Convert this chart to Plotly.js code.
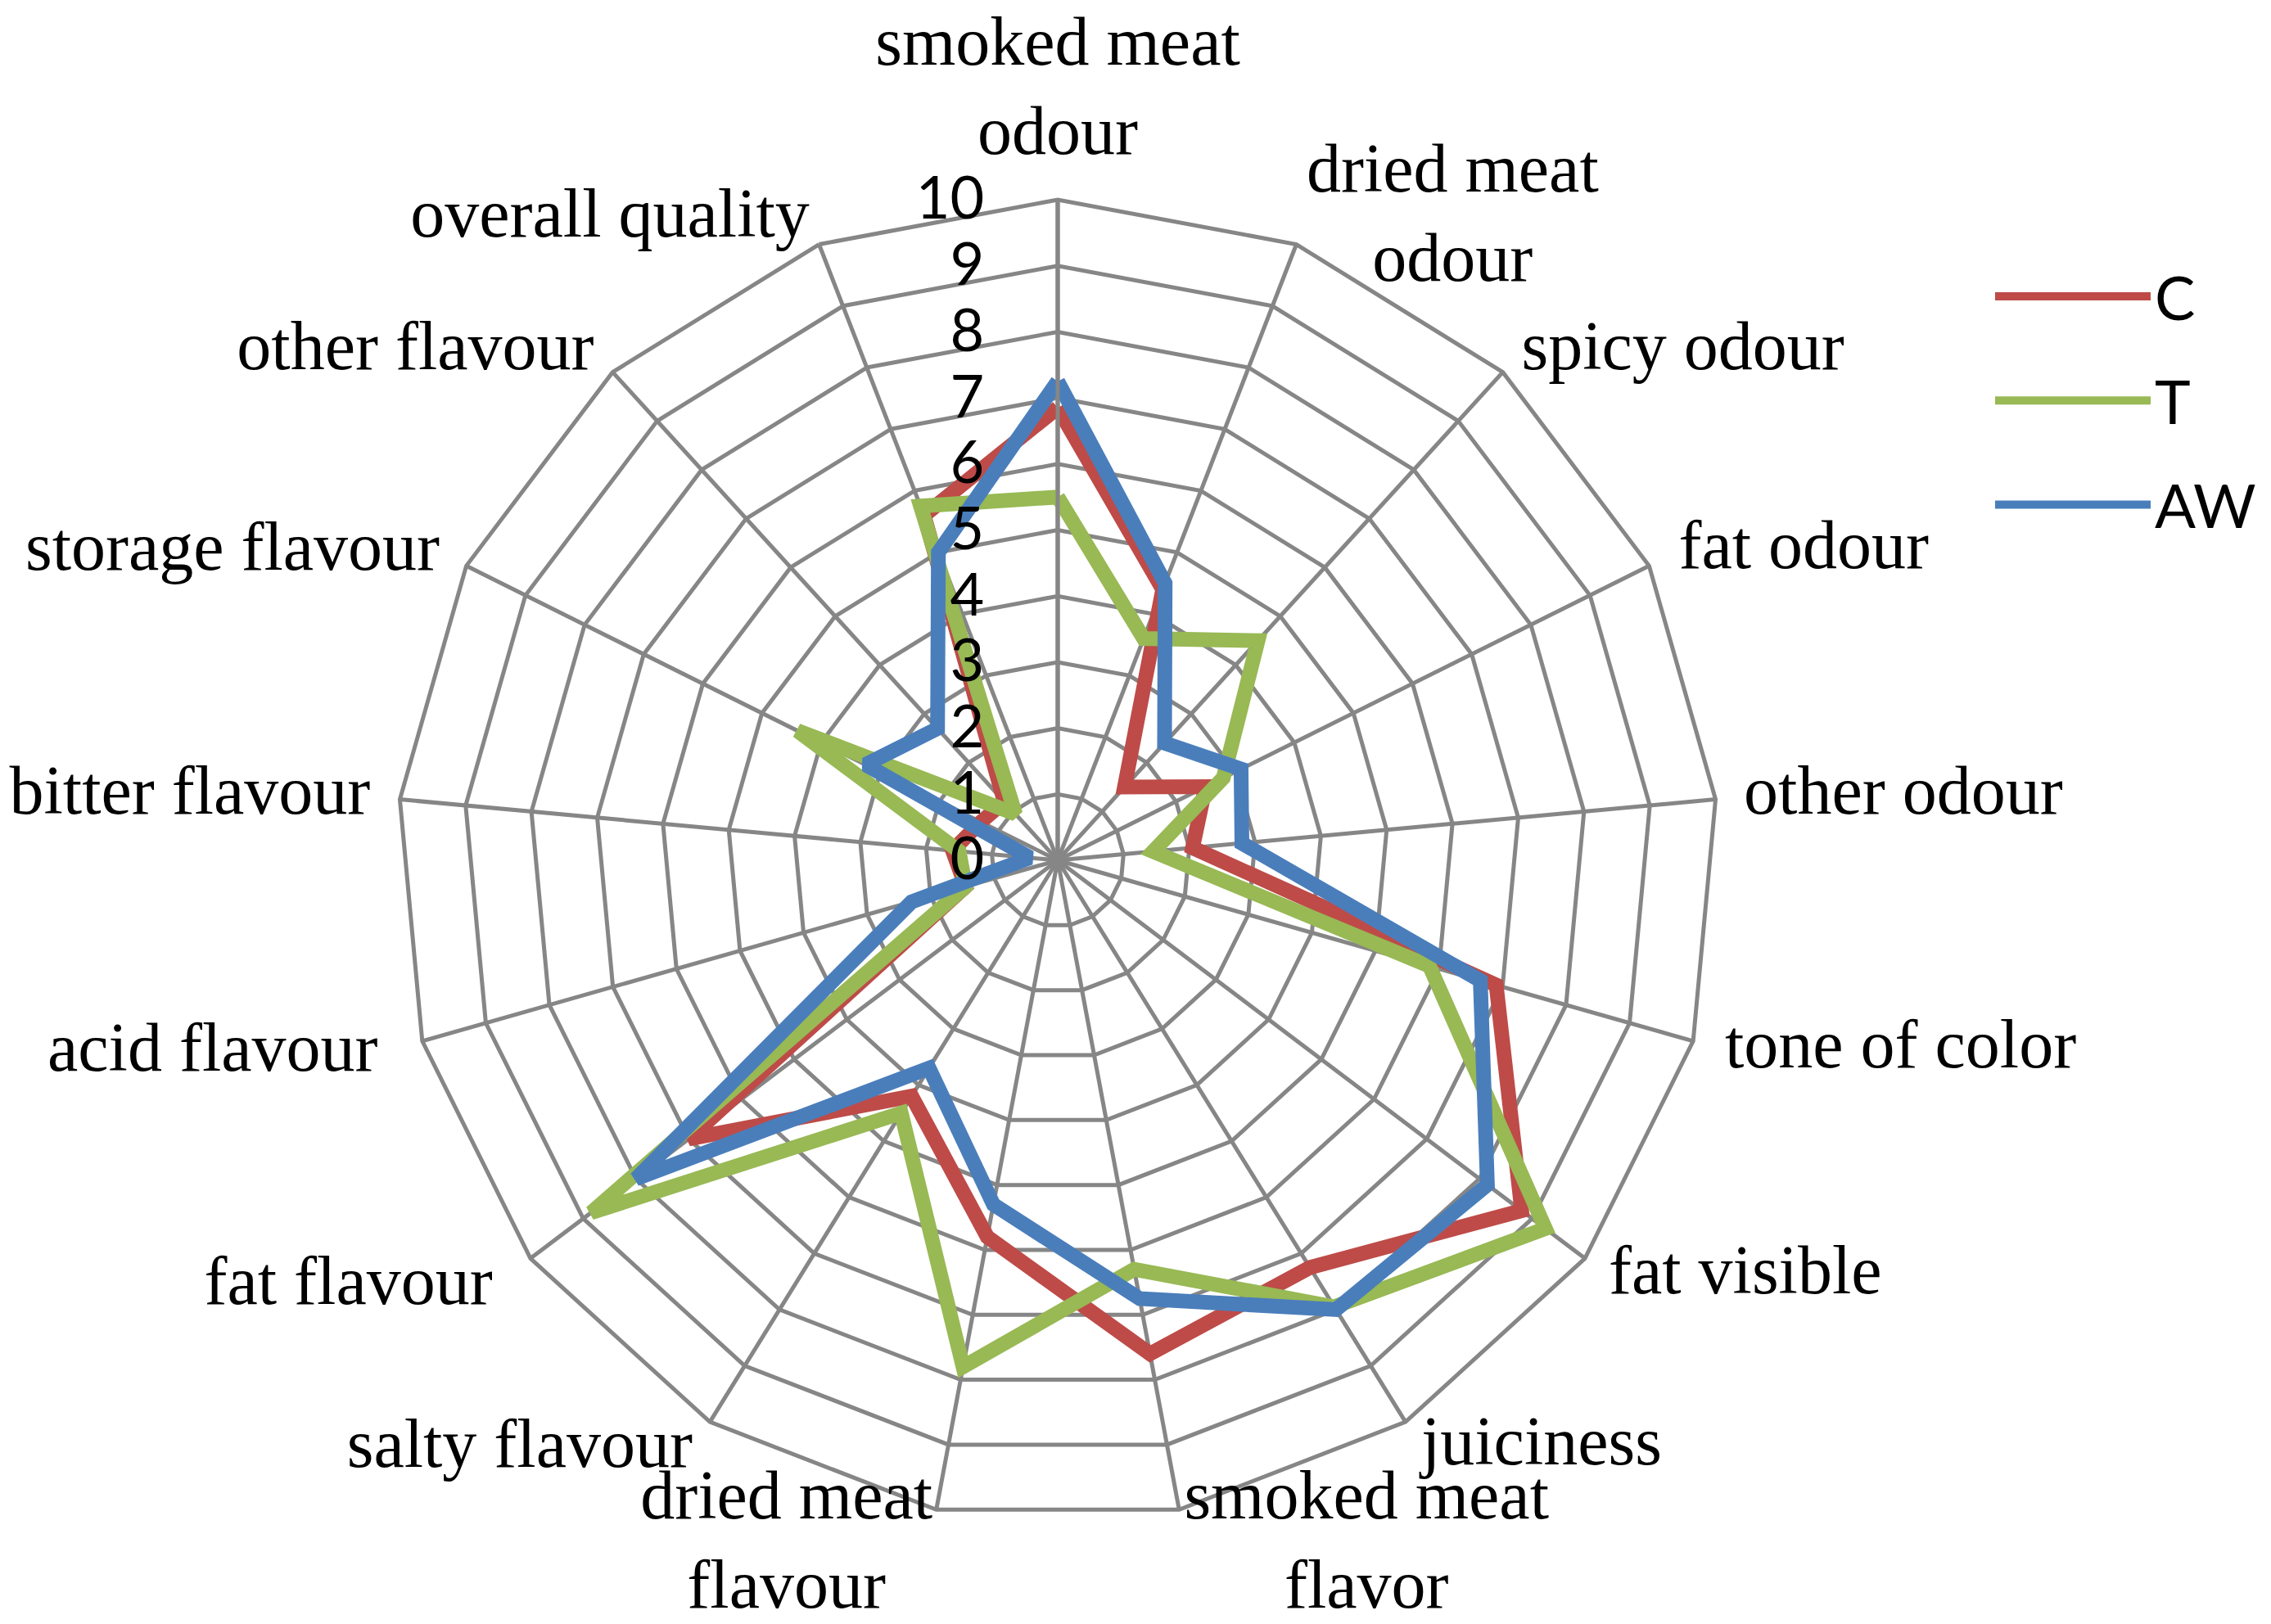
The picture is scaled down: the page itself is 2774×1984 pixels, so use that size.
<!DOCTYPE html>
<html>
<head>
<meta charset="utf-8">
<script src="https://cdn.plot.ly/plotly-3.0.1.min.js"></script>
<style>
  html, body { margin: 0; padding: 0; background: #ffffff; }
  #chart { width: 2774px; height: 1984px; }
</style>
</head>
<body>
<div id="chart"></div>
<script>
// sensory attributes, clockwise from the top
var attributes = [
    "smoked meat odour", "dried meat odour", "spicy odour", "fat odour",
    "other odour", "tone of color", "fat visible", "juiciness",
    "smoked meat flavor", "dried meat flavour", "salty flavour", "fat flavour",
    "acid flavour", "bitter flavour", "storage flavour", "other flavour",
    "overall quality"
];

// how the category names are written round the web
var attributeLabels = [
    "smoked meat<br>odour", "dried meat<br>odour", "spicy odour", "fat odour",
    "other odour", "tone of color", "fat visible", "juiciness",
    "smoked meat<br>flavor", "dried meat<br>flavour", "salty flavour", "fat flavour",
    "acid flavour", "bitter flavour", "storage flavour", "other flavour",
    "overall quality"
];

var valuesC  = [6.85, 4.4, 1.5, 2.5, 2.05, 6.9, 8.8, 7.25, 7.6, 5.8, 4.2, 7.0, 1.45, 1.6, 1.3, 1.2, 5.6];
var valuesT  = [5.5, 3.6, 4.5, 2.8, 1.45, 5.85, 9.25, 7.95, 6.3, 7.8, 4.5, 8.85, 1.45, 1.5, 4.4, 0.95, 5.75];
var valuesAW = [7.25, 4.5, 2.4, 3.1, 2.8, 6.65, 8.15, 8.0, 6.75, 5.3, 3.7, 8.0, 2.3, 0.42, 3.25, 2.7, 5.0];

var scaleTicks = [0, 1, 2, 3, 4, 5, 6, 7, 8, 9, 10];

// placement of each category name: radius, small turn off its spoke (degrees), side
var labelRadius = [10.43, 10.4, 10.42, 10.5, 10.43, 10.5, 10.45, 10.45, 10.3,
                   10.06, 10.5, 10.72, 10.7, 10.45, 10.45, 10.42, 10.4];
var labelTurn = [0, 13.9, 0, 0, 0, 0, 0, 0, -16.4, 13.5, 0, 0, 0, 0, 0, 0, 0];
var labelSide = ['top center', 'top center', 'middle right', 'middle right', 'middle right',
                 'middle right', 'middle right', 'middle right', 'bottom center',
                 'bottom center', 'middle left', 'middle left', 'middle left', 'middle left',
                 'middle left', 'middle left', 'middle left'];

var gridColor = '#868686';

function closed(arr) {
    return arr.concat([arr[0]]);
}

function makeTrace(name, values, color) {
    return {
        type: 'scatterpolar',
        mode: 'lines',
        name: name,
        legendgroup: name,
        r: closed(values),
        theta: closed(attributes),
        line: { color: color, width: 18 },
        hoverinfo: 'skip'
    };
}

// category names live on a second, invisible polar with the same centre and scale
// but a 15% larger reach, so they can sit outside the outer ring
var step = 360 / attributes.length;
var labels = {
    type: 'scatterpolar',
    subplot: 'polar2',
    mode: 'text',
    r: labelRadius,
    theta: attributes.map(function (a, i) { return i * step + labelTurn[i]; }),
    text: attributeLabels,
    textposition: labelSide,
    textfont: { family: '"Liberation Serif", "Times New Roman", serif', size: 84, color: '#000000' },
    cliponaxis: false,
    showlegend: false,
    hoverinfo: 'skip'
};

var data = [
    makeTrace('C', valuesC, '#BE4B48'),
    makeTrace('T', valuesT, '#98B954'),
    makeTrace('AW', valuesAW, '#4A7EBB'),
    labels
];

var hiddenAxis = {
    showline: false,
    showgrid: false,
    showticklabels: false,
    ticks: ''
};

var layout = {
    width: 2774,
    height: 1984,
    margin: { l: 0, r: 0, t: 0, b: 0 },
    paper_bgcolor: '#ffffff',
    showlegend: true,
    legend: {
        x: 0.8767,
        y: 0.845,
        xanchor: 'left',
        yanchor: 'top',
        traceorder: 'grouped',
        tracegroupgap: 28,
        itemwidth: 190,
        font: { family: 'Lato, sans-serif', size: 74, color: '#000000' },
        bgcolor: 'rgba(0,0,0,0)'
    },
    polar: {
        domain: { x: [0.1748, 0.7567], y: [0.0635, 0.877] },
        gridshape: 'linear',
        bgcolor: '#ffffff',
        radialaxis: {
            range: [0, 10],
            tickvals: scaleTicks,
            ticktext: scaleTicks.map(String),
            angle: 90,
            side: 'counterclockwise',
            tickangle: 90,
            ticks: 'outside',
            ticklen: 62,
            tickcolor: 'rgba(0,0,0,0)',
            showline: true,
            linecolor: gridColor,
            linewidth: 5,
            gridcolor: gridColor,
            gridwidth: 5,
            tickfont: { family: 'Lato, sans-serif', size: 72, color: '#000000' }
        },
        angularaxis: {
            direction: 'clockwise',
            rotation: 90,
            categoryorder: 'array',
            categoryarray: attributes,
            showline: true,
            linecolor: gridColor,
            linewidth: 5,
            gridcolor: gridColor,
            gridwidth: 5,
            showticklabels: false,
            ticks: ''
        }
    },
    polar2: {
        domain: { x: [0.13120, 0.80031], y: [0.00247, 0.93800] },
        gridshape: 'linear',
        bgcolor: 'rgba(0,0,0,0)',
        radialaxis: Object.assign({ range: [0, 11.5] }, hiddenAxis),
        angularaxis: Object.assign({
            type: 'linear',
            thetaunit: 'degrees',
            direction: 'clockwise',
            rotation: 90
        }, hiddenAxis)
    }
};

Plotly.newPlot('chart', data, layout, { displayModeBar: false, staticPlot: true });
</script>
</body>
</html>
